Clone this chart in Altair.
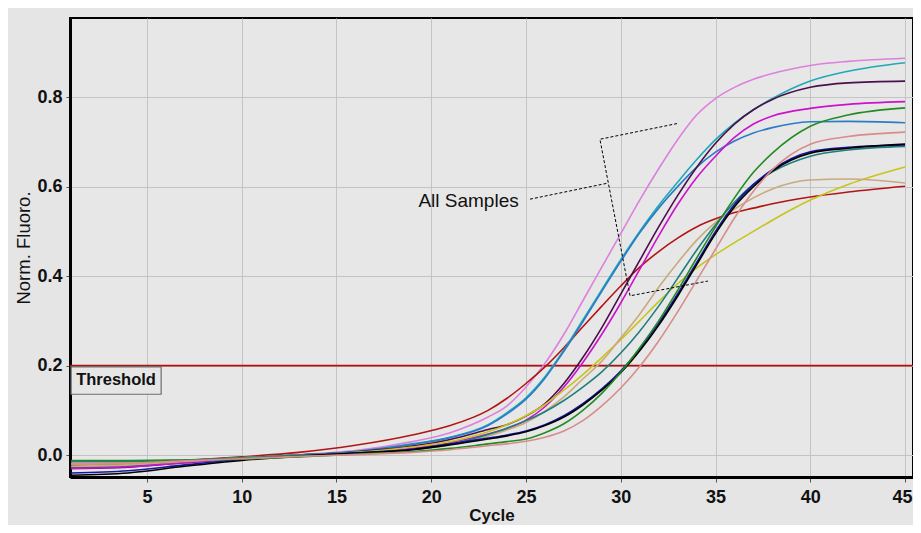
import altair as alt
import pandas as pd

CYCLES = [1, 4, 7, 10, 13, 16, 19, 21, 23, 24, 25, 26, 27, 28, 29, 30,
          31, 32, 33, 34, 35, 36, 37, 38, 40, 42, 45]

SERIES = ["orchid", "red", "cyan", "steel", "purple", "magenta", "yellow",
          "tan", "teal", "navy", "black", "green", "salmon"]
COLORS = ["#dd80dd", "#b31414", "#1ea9b9", "#2a7cc6", "#4b0f4b", "#cc12cc", "#c8c41c",
          "#c9aa7c", "#1f7e7e", "#1616a6", "#000000", "#248a24", "#d88c8c"]

orchid = [-0.018, -0.018, -0.012, -0.006, 0.001, 0.01, 0.03,
          0.05, 0.085, 0.11, 0.152, 0.205, 0.27, 0.345, 0.42, 0.495,
          0.57, 0.64, 0.705, 0.76, 0.797, 0.822, 0.84, 0.853,
          0.871, 0.88, 0.887]
red = [-0.022, -0.019, -0.012, -0.004, 0.006, 0.022, 0.045,
       0.066, 0.1, 0.127, 0.16, 0.197, 0.24, 0.287, 0.333, 0.378,
       0.42, 0.455, 0.485, 0.51, 0.528, 0.542, 0.552, 0.562,
       0.577, 0.588, 0.601]
cyan = [-0.02, -0.019, -0.013, -0.006, 0.0, 0.008, 0.025,
        0.04, 0.068, 0.095, 0.128, 0.175, 0.235, 0.302, 0.37, 0.437,
        0.5, 0.558, 0.61, 0.66, 0.705, 0.742, 0.772, 0.797,
        0.836, 0.858, 0.877]
steel = [-0.027, -0.024, -0.015, -0.006, 0.0, 0.008, 0.024,
         0.039, 0.066, 0.092, 0.125, 0.172, 0.232, 0.298, 0.366, 0.433,
         0.497, 0.552, 0.6, 0.643, 0.677, 0.702, 0.72, 0.732,
         0.745, 0.746, 0.743]
purple = [-0.03, -0.027, -0.017, -0.007, 0.0, 0.007, 0.02,
          0.035, 0.057, 0.068, 0.087, 0.115, 0.16, 0.218, 0.285, 0.36,
          0.435, 0.51, 0.58, 0.643, 0.697, 0.74, 0.772, 0.795,
          0.822, 0.832, 0.836]
magenta = [-0.03, -0.026, -0.017, -0.008, -0.002, 0.005, 0.015,
           0.028, 0.047, 0.06, 0.078, 0.108, 0.152, 0.207, 0.27, 0.34,
           0.415, 0.49, 0.56, 0.62, 0.668, 0.71, 0.74, 0.758,
           0.775, 0.784, 0.79]
yellow = [-0.02, -0.018, -0.013, -0.006, 0.0, 0.006, 0.018,
          0.03, 0.052, 0.068, 0.088, 0.113, 0.145, 0.18, 0.218, 0.258,
          0.3, 0.343, 0.383, 0.418, 0.448, 0.475, 0.5, 0.525,
          0.57, 0.605, 0.644]
tan = [-0.025, -0.022, -0.014, -0.007, -0.002, 0.004, 0.012,
       0.022, 0.042, 0.056, 0.073, 0.098, 0.13, 0.17, 0.21, 0.262,
       0.315, 0.375, 0.43, 0.48, 0.52, 0.55, 0.575, 0.595,
       0.615, 0.617, 0.608]
teal = [-0.014, -0.014, -0.011, -0.006, 0.0, 0.005, 0.012,
        0.024, 0.046, 0.06, 0.077, 0.097, 0.122, 0.152, 0.186, 0.228,
        0.277, 0.333, 0.395, 0.458, 0.515, 0.565, 0.605, 0.633,
        0.668, 0.682, 0.69]
navy = [-0.04, -0.035, -0.022, -0.01, -0.002, 0.005, 0.013,
        0.025, 0.038, 0.045, 0.054, 0.068, 0.088, 0.115, 0.148, 0.188,
        0.237, 0.295, 0.36, 0.43, 0.5, 0.56, 0.605, 0.638,
        0.678, 0.688, 0.693]
black = [-0.045, -0.04, -0.025, -0.012, -0.003, 0.004, 0.012,
         0.023, 0.036, 0.043, 0.052, 0.066, 0.085, 0.112, 0.145, 0.184,
         0.233, 0.29, 0.355, 0.425, 0.495, 0.555, 0.6, 0.635,
         0.675, 0.686, 0.695]
green = [-0.012, -0.012, -0.011, -0.009, -0.004, 0.002, 0.008,
         0.015, 0.025, 0.03, 0.036, 0.05, 0.07, 0.1, 0.138, 0.185,
         0.24, 0.3, 0.368, 0.44, 0.51, 0.575, 0.632, 0.675,
         0.735, 0.76, 0.776]
salmon = [-0.02, -0.018, -0.013, -0.008, -0.003, 0.001, 0.006,
          0.012, 0.021, 0.025, 0.031, 0.04, 0.054, 0.077, 0.11, 0.15,
          0.198, 0.255, 0.32, 0.39, 0.46, 0.53, 0.59, 0.638,
          0.695, 0.712, 0.722]

VALUES = [orchid, red, cyan, steel, purple, magenta, yellow, tan, teal, navy, black, green, salmon]

THRESHOLD = 0.2
X_TICKS = [5, 10, 15, 20, 25, 30, 35, 40, 45]
Y_TICKS = [0.0, 0.2, 0.4, 0.6, 0.8]

# annotation (data units)
LABEL_TEXT = "All Samples"
LABEL_POS = (21.97, 0.569)
LEADER_X = [25.21, 29.33]
LEADER_Y = [0.572, 0.608]
BRACKET_X = [32.97, 28.9, 30.49, 34.6]
BRACKET_Y = [0.741, 0.706, 0.356, 0.389]
THR_BOX = (1.0, 5.75, 0.197, 0.136)
THR_TEXT_POS = (3.37, 0.167)

XDOM = [0.94, 45.42]
YDOM = [-0.049, 0.977]

rows = []
for name, vals in zip(SERIES, VALUES):
    for c, v in zip(CYCLES, vals):
        rows.append({"series": name, "cycle": c, "fluoro": v})
df = pd.DataFrame(rows)

xs = alt.Scale(domain=XDOM, nice=False, zero=False)
ys = alt.Scale(domain=YDOM, nice=False, zero=False)

x_axis = alt.Axis(values=X_TICKS, title="Cycle", grid=True, gridColor="#c4c4c4",
                  labelFontSize=18, labelFontWeight="bold", labelColor="#111",
                  titleFontSize=17, titleFontWeight="bold", titleColor="#111",
                  domainColor="black", domainWidth=3, tickColor="#555", tickSize=5,
                  labelPadding=6, titlePadding=1, labelFont="Liberation Sans",
                  titleFont="Liberation Sans", labelFlush=10, labelFlushOffset=7)
y_axis = alt.Axis(values=Y_TICKS, format=".1f", title="Norm. Fluoro.", grid=True,
                  gridColor="#c4c4c4", labelFontSize=18, labelFontWeight="bold",
                  labelColor="#111", titleFontSize=18.5, titleFontWeight="normal",
                  titleColor="#111", domainColor="black", domainWidth=3,
                  tickColor="#555", tickSize=4, labelPadding=4, titlePadding=3,
                  labelFont="Liberation Sans", titleFont="Liberation Sans")

lines = alt.Chart(df).mark_line(strokeWidth=1.6, interpolate="monotone", clip=True).encode(
    x=alt.X("cycle:Q", scale=xs, axis=x_axis),
    y=alt.Y("fluoro:Q", scale=ys, axis=y_axis),
    color=alt.Color("series:N", scale=alt.Scale(domain=SERIES, range=COLORS), legend=None),
    detail="series:N",
)

thr = alt.Chart(pd.DataFrame({"y": [THRESHOLD]})).mark_rule(color="#b01010", strokeWidth=1.6).encode(
    y=alt.Y("y:Q", scale=ys)
)

box = alt.Chart(pd.DataFrame({"x": [THR_BOX[0]], "x2": [THR_BOX[1]], "y": [THR_BOX[2]], "y2": [THR_BOX[3]]})).mark_rect(
    fill="#e6e6e6", stroke="#6e6e6e", strokeWidth=1.2
).encode(x=alt.X("x:Q", scale=xs), x2="x2:Q", y=alt.Y("y:Q", scale=ys), y2="y2:Q")

thr_text = alt.Chart(pd.DataFrame({"x": [THR_TEXT_POS[0]], "y": [THR_TEXT_POS[1]], "t": ["Threshold"]})).mark_text(
    fontSize=16.5, fontWeight="bold", font="Liberation Sans", color="#111", align="center", baseline="middle"
).encode(x=alt.X("x:Q", scale=xs), y=alt.Y("y:Q", scale=ys), text="t:N")

ann_rows = []
for i, (x, y) in enumerate(zip(LEADER_X, LEADER_Y)):
    ann_rows.append({"seg": "leader", "i": i, "x": x, "y": y})
for i, (x, y) in enumerate(zip(BRACKET_X, BRACKET_Y)):
    ann_rows.append({"seg": "bracket", "i": i, "x": x, "y": y})
ann = alt.Chart(pd.DataFrame(ann_rows)).mark_line(color="black", strokeWidth=1, strokeDash=[3, 2]).encode(
    x=alt.X("x:Q", scale=xs), y=alt.Y("y:Q", scale=ys), detail="seg:N", order="i:Q"
)

label = alt.Chart(pd.DataFrame({"x": [LABEL_POS[0]], "y": [LABEL_POS[1]], "t": [LABEL_TEXT]})).mark_text(
    fontSize=19, font="Liberation Sans", color="#111", align="center", baseline="middle"
).encode(x=alt.X("x:Q", scale=xs), y=alt.Y("y:Q", scale=ys), text="t:N")

chart = alt.layer(thr, lines, box, thr_text, ann, label).properties(
    width=843, height=459,
    autosize=alt.AutoSizeParams(type="none"),
    padding={"left": 62, "top": 10, "right": 0, "bottom": 48},
    background="#e5e5e5",
).configure_view(stroke="black", strokeWidth=2, fill="#e7e7e7")

chart.save("out.html", embed_options={"renderer": "svg", "actions": False})
